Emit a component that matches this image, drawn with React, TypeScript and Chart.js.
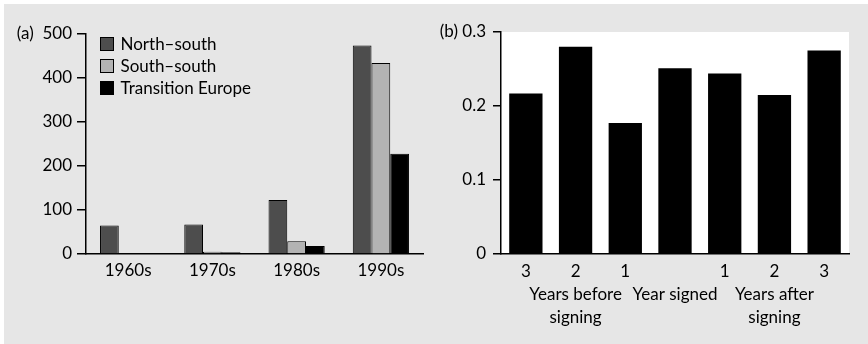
import React, { useEffect, useRef } from 'react';
import { Chart, registerables } from 'chart.js';

Chart.register(...registerables);

// Panel (a): agreements by decade and type
const decades = ['1960s', '1970s', '1980s', '1990s'];
const northSouth = [65, 67, 123, 474];
const southSouth = [0, 5, 29, 434];
const transitionEurope = [0, 4, 18, 228];
const seriesNames = ['North–south', 'South–south', 'Transition Europe'];
const seriesColors = ['#4d4d4d', '#b3b3b3', '#000000'];
const countTicks = [0, 100, 200, 300, 400, 500];

// Panel (b): values around the signing year
const yearLabels = [
  ['3'],
  ['2', 'Years before', 'signing'],
  ['1'],
  ['', 'Year signed'],
  ['1'],
  ['2', 'Years after', 'signing'],
  ['3'],
];
const shareValues = [0.217, 0.28, 0.177, 0.251, 0.244, 0.215, 0.275];
const shareTicks = [0, 0.1, 0.2, 0.3];

const FONT_FAMILY = 'Lato';
const FONT_SIZE = 17;
const INK = '#000000';

const seriesKey = {
  id: 'seriesKey',
  afterDraw(chart: any) {
    const { ctx, chartArea } = chart;
    ctx.save();
    ctx.font = `${FONT_SIZE}px ${FONT_FAMILY}`;
    ctx.textBaseline = 'middle';
    ctx.textAlign = 'left';
    chart.data.datasets.forEach((ds: any, i: number) => {
      const cy = chartArea.top + 10 + i * 22;
      const x = chartArea.left + 14.5;
      ctx.fillStyle = ds.backgroundColor;
      ctx.fillRect(x, cy - 6.5, 13, 13);
      ctx.strokeStyle = INK;
      ctx.lineWidth = 1;
      ctx.strokeRect(x, cy - 6.5, 13, 13);
      ctx.fillStyle = INK;
      ctx.fillText(ds.label, x + 20, cy + 1);
    });
    ctx.restore();
  },
};

const plotBackground = {
  id: 'plotBackground',
  beforeDraw(chart: any) {
    const { ctx, chartArea } = chart;
    ctx.save();
    ctx.fillStyle = '#ffffff';
    ctx.fillRect(chartArea.left, chartArea.top, chartArea.right - chartArea.left, chartArea.bottom - chartArea.top);
    ctx.restore();
  },
};

function near(a: number, b: number) {
  return Math.abs(a - b) < 1e-9;
}

function DecadeChart() {
  const ref = useRef<HTMLCanvasElement>(null);
  useEffect(() => {
    const font = { family: FONT_FAMILY, size: FONT_SIZE };
    const values = [northSouth, southSouth, transitionEurope];
    const chart = new Chart(ref.current as HTMLCanvasElement, {
      type: 'bar',
      data: {
        labels: decades,
        datasets: values.map((data, i) => ({
          label: seriesNames[i],
          data,
          backgroundColor: seriesColors[i],
          borderColor: INK,
          borderWidth: 1,
          categoryPercentage: 0.667,
          barPercentage: 1,
        })),
      },
      options: {
        animation: false,
        responsive: false,
        maintainAspectRatio: false,
        layout: { padding: { top: 34, right: 11, left: 0, bottom: 0 } },
        plugins: { legend: { display: false }, tooltip: { enabled: false } },
        scales: {
          x: {
            grid: { display: false, drawTicks: false },
            border: { display: true, color: INK, width: 1.5 },
            ticks: { color: INK, font, padding: 6, maxRotation: 0 },
            afterFit: (s: any) => {
              s.height = 90;
            },
          },
          y: {
            min: countTicks[0],
            max: countTicks[countTicks.length - 1],
            afterBuildTicks: (s: any) => {
              s.ticks = countTicks.map((v) => ({ value: v }));
            },
            grid: { drawOnChartArea: false, drawTicks: true, tickLength: 9, color: INK, lineWidth: 1.5 },
            border: { display: true, color: INK, width: 1.5 },
            ticks: {
              color: INK,
              font,
              padding: 5,
              callback: (v: any) => (near(v, countTicks[countTicks.length - 1]) ? `(a)  ${v}` : `${v}`),
            },
            afterFit: (s: any) => {
              s.width = 86;
            },
          },
        },
      },
      plugins: [seriesKey],
    });
    return () => chart.destroy();
  }, []);
  return (
    <canvas
      ref={ref}
      width={434}
      height={344}
      style={{ position: 'absolute', left: 0, top: 0, width: 434, height: 344 }}
    />
  );
}

function SigningChart() {
  const ref = useRef<HTMLCanvasElement>(null);
  useEffect(() => {
    const font = { family: FONT_FAMILY, size: FONT_SIZE, lineHeight: '23px' };
    const chart = new Chart(ref.current as HTMLCanvasElement, {
      type: 'bar',
      data: {
        labels: yearLabels,
        datasets: [
          {
            label: 'share',
            data: shareValues,
            backgroundColor: INK,
            borderWidth: 0,
            categoryPercentage: 0.67,
            barPercentage: 1,
          },
        ],
      },
      options: {
        animation: false,
        responsive: false,
        maintainAspectRatio: false,
        layout: { padding: { top: 32, right: 19, left: 0, bottom: 0 } },
        plugins: { legend: { display: false }, tooltip: { enabled: false } },
        scales: {
          x: {
            grid: { display: false, drawTicks: false },
            border: { display: true, color: INK, width: 1.5 },
            ticks: { color: INK, font, padding: 6, maxRotation: 0, minRotation: 0, autoSkip: false },
            afterFit: (s: any) => {
              s.height = 90;
            },
          },
          y: {
            min: shareTicks[0],
            max: shareTicks[shareTicks.length - 1],
            afterBuildTicks: (s: any) => {
              s.ticks = shareTicks.map((v) => ({ value: v }));
            },
            grid: { drawOnChartArea: false, drawTicks: true, tickLength: 8, color: INK, lineWidth: 1.5 },
            border: { display: true, color: INK, width: 1.5 },
            ticks: {
              color: INK,
              font: { family: FONT_FAMILY, size: FONT_SIZE },
              padding: 7,
              callback: (v: any) => {
                const txt = near(v, 0) ? '0' : Number(v).toFixed(1);
                return near(v, shareTicks[shareTicks.length - 1]) ? `(b) ${txt}` : txt;
              },
            },
            afterFit: (s: any) => {
              s.width = 67;
            },
          },
        },
      },
      plugins: [plotBackground],
    });
    return () => chart.destroy();
  }, []);
  return (
    <canvas
      ref={ref}
      width={434}
      height={344}
      style={{ position: 'absolute', left: 434, top: 0, width: 434, height: 344 }}
    />
  );
}

export default function App() {
  return (
    <div style={{ position: 'absolute', left: 0, top: 0, width: 868, height: 344, background: '#ffffff', overflow: 'hidden' }}>
      <div style={{ position: 'absolute', left: 4, top: 4, width: 864, height: 340, background: '#e6e6e6' }} />
      <DecadeChart />
      <SigningChart />
    </div>
  );
}
